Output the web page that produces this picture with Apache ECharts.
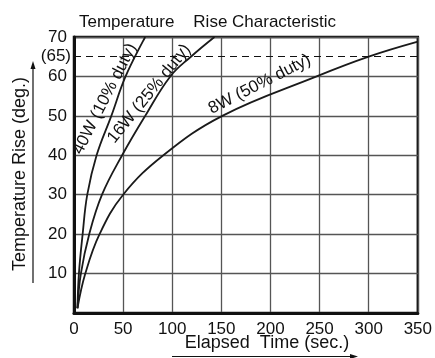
<!DOCTYPE html>
<html>
<head>
<meta charset="utf-8">
<script src="https://cdn.jsdelivr.net/npm/echarts@6/dist/echarts.min.js"></script>
<style>
html, body { margin: 0; padding: 0; background: #fff; }
#chart_rise { width: 435px; height: 358px; }
</style>
</head>
<body>
<div id="chart_rise"></div>
<script>
const font = 'Liberation Sans, Arial, Helvetica, sans-serif'

// [elapsed sec, temperature rise deg]
const curve40w = [[3.5, 1.2], [5, 10], [8.8, 20], [13.5, 30], [23, 40], [38, 50], [52.5, 60], [72.5, 70]]
const curve16w = [[3.5, 1.2], [7, 10], [15.5, 20], [28.5, 30], [49, 40], [72.5, 50], [98, 60], [119, 65], [143, 70]]
const curve8w = [[3.5, 1.2], [11.5, 10], [26, 20], [50, 30], [91, 40], [151, 50], [247, 60], [300, 65], [350, 68.8]]
const curveNames = ['40W (10% duty)', '16W (25% duty)', '8W (50% duty)']
const limitLine = 65

// where the curve names sit, in data units, plus slant in degrees
const namePlaces = [[31.5, 54.3, 63], [76.5, 55.6, 51], [189, 58, 27]]

const chart = echarts.init(document.getElementById('chart_rise'))

function lineSeries(name, data) {
  return {
    name: name,
    type: 'line',
    data: data,
    smooth: 0.4,
    showSymbol: false,
    lineStyle: { color: '#1a1a1a', width: 1.8 }
  }
}

const series = [
  lineSeries(curveNames[0], curve40w),
  lineSeries(curveNames[1], curve16w),
  lineSeries(curveNames[2], curve8w)
]
series[2].markLine = {
  silent: true,
  symbol: 'none',
  data: [{ yAxis: limitLine }],
  lineStyle: { color: '#111', type: [7, 5], width: 1 },
  label: {
    position: 'start',
    distance: 3,
    formatter: '(' + limitLine + ')',
    color: '#111',
    fontFamily: font,
    fontSize: 17
  }
}

chart.setOption({
  animation: false,
  title: {
    text: 'Temperature    Rise Characteristic',
    left: 74,
    top: 9,
    textStyle: { fontFamily: font, fontSize: 17, fontWeight: 'normal', color: '#111' }
  },
  grid: {
    left: 74,
    right: 16,
    top: 37,
    bottom: 45,
    show: true,
    borderColor: '#111',
    borderWidth: 2.5
  },
  xAxis: {
    type: 'value',
    min: 0,
    max: 350,
    interval: 50,
    axisLine: { show: true, lineStyle: { color: '#111', width: 3 } },
    axisTick: { show: false },
    splitLine: { lineStyle: { color: '#555', width: 1.3 } },
    axisLabel: { color: '#111', fontFamily: font, fontSize: 17, margin: 8 }
  },
  yAxis: {
    type: 'value',
    min: 0,
    max: 70,
    interval: 10,
    axisLine: { show: true, lineStyle: { color: '#111', width: 3 } },
    axisTick: { show: false },
    splitLine: { lineStyle: { color: '#555', width: 1.3 } },
    axisLabel: {
      color: '#111',
      fontFamily: font,
      fontSize: 17,
      margin: 7,
      formatter: v => (v === 0 ? '' : v)
    }
  },
  series: series
})

const graphics = [
  {
    type: 'text',
    x: 20,
    y: 174,
    rotation: Math.PI / 2,
    style: { text: 'Temperature Rise (deg.)', font: '18px ' + font, fill: '#111', align: 'center', verticalAlign: 'middle' }
  },
  { type: 'line', shape: { x1: 33, y1: 283, x2: 33, y2: 66 }, style: { stroke: '#111', lineWidth: 1.2 } },
  { type: 'polygon', shape: { points: [[33, 61], [30.5, 69], [35.5, 69]] }, style: { fill: '#111' } },
  {
    type: 'text',
    x: 267,
    y: 343,
    style: { text: 'Elapsed  Time (sec.)', font: '18px ' + font, fill: '#111', align: 'center', verticalAlign: 'middle' }
  },
  { type: 'line', shape: { x1: 172, y1: 356.5, x2: 352, y2: 356.5 }, style: { stroke: '#111', lineWidth: 1.2 } },
  { type: 'polygon', shape: { points: [[358, 356.5], [350, 354], [350, 359]] }, style: { fill: '#111' } }
]

namePlaces.forEach((p, i) => {
  const pos = chart.convertToPixel({ gridIndex: 0 }, [p[0], p[1]])
  graphics.push({
    type: 'text',
    x: pos[0],
    y: pos[1],
    rotation: p[2] * Math.PI / 180,
    style: { text: curveNames[i], font: '17px ' + font, fill: '#111', align: 'center', verticalAlign: 'middle' }
  })
})

chart.setOption({ graphic: graphics })
</script>
</body>
</html>
